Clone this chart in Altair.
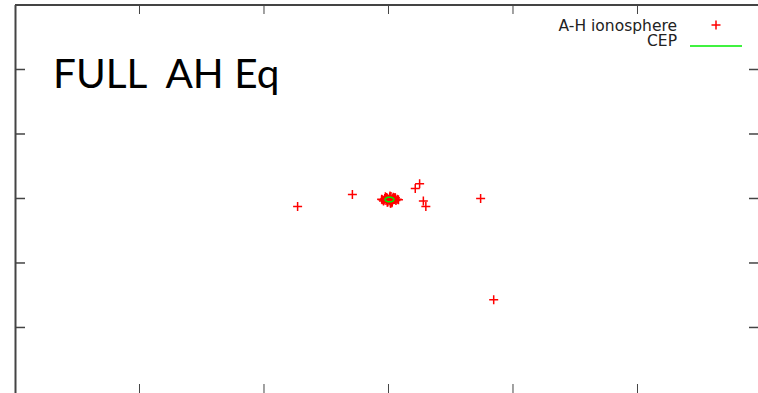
import altair as alt
import pandas as pd

# A-H ionosphere solutions (data units)
out_x = [-0.73, -0.29, 0.215, 0.25, 0.28, 0.30, 0.74, 0.845]
out_y = [-0.125, 0.06, 0.155, 0.23, -0.04, -0.125, 0.0, -1.57]
clu_x = [0.0, 0.01, -0.02, 0.03, -0.03, 0.02, -0.01, 0.04, -0.04, 0.05,
         -0.05, 0.06, 0.07, 0.015, -0.015, 0.025, -0.025, 0.035, 0.005, -0.005,
         0.045, -0.035, 0.055, 0.08, -0.055, 0.012, 0.028, -0.008, 0.018, 0.038]
clu_y = [-0.01, 0.02, -0.03, -0.05, 0.0, 0.03, -0.06, -0.02, -0.04, 0.01,
         -0.02, -0.03, -0.01, -0.07, 0.015, -0.045, 0.025, 0.0, -0.035, -0.055,
         -0.015, -0.025, 0.01, -0.02, -0.01, 0.04, -0.065, 0.005, -0.075, 0.02]

# CEP circle
cep_cx = 0.008
cep_cy = -0.016
cep_r = 0.036

x_ticks = [-2, -1, 0, 1, 2]
y_ticks = [-2, -1, 0, 1, 2]

W, H = 743, 388
X_DOM = [-3.0, 2.968]
Y_DOM = [-3.016, 3.0]
FRAME = "#444444"

pts = pd.DataFrame({"x": out_x + clu_x, "y": out_y + clu_y})
xs = alt.Scale(domain=X_DOM, nice=False, zero=False)
ys = alt.Scale(domain=Y_DOM, nice=False, zero=False)

plus = "M-1,0L1,0M0,-1L0,1"

points = alt.Chart(pts).mark_point(
    shape=plus, size=81, color="red", filled=False, strokeWidth=1.5, opacity=1
).encode(
    x=alt.X("x:Q", scale=xs, axis=None),
    y=alt.Y("y:Q", scale=ys, axis=None),
)

cep = alt.Chart(alt.sequence(0, 361, 10, as_="deg")).transform_calculate(
    cx=f"{cep_cx} + {cep_r} * cos(datum.deg * PI / 180)",
    cy=f"{cep_cy} + {cep_r} * sin(datum.deg * PI / 180)",
).mark_line(color="#00ee00", strokeWidth=1.5).encode(
    x=alt.X("cx:Q", scale=xs, axis=None),
    y=alt.Y("cy:Q", scale=ys, axis=None),
    order="deg:Q",
)

xt = pd.DataFrame({"t": x_ticks})
yt = pd.DataFrame({"t": y_ticks})
TL = 9
top_ticks = alt.Chart(xt).mark_rule(color=FRAME, strokeWidth=1).encode(
    x=alt.X("t:Q", scale=xs, axis=None), y=alt.value(0), y2=alt.value(TL))
bot_ticks = alt.Chart(xt).mark_rule(color=FRAME, strokeWidth=1).encode(
    x=alt.X("t:Q", scale=xs, axis=None), y=alt.value(H - TL), y2=alt.value(H))
left_ticks = alt.Chart(yt).mark_rule(color=FRAME, strokeWidth=1.5).encode(
    y=alt.Y("t:Q", scale=ys, axis=None), x=alt.value(0), x2=alt.value(TL + 1))
right_ticks = alt.Chart(yt).mark_rule(color=FRAME, strokeWidth=1.5).encode(
    y=alt.Y("t:Q", scale=ys, axis=None), x=alt.value(W - TL), x2=alt.value(W))

left_border = alt.Chart(pd.DataFrame({"a": [0]})).mark_rule(color=FRAME, strokeWidth=2).encode(
    x=alt.value(0.5), y=alt.value(0), y2=alt.value(H))
top_border = alt.Chart(pd.DataFrame({"a": [0]})).mark_rule(color=FRAME, strokeWidth=2).encode(
    x=alt.value(0), x2=alt.value(W), y=alt.value(0))

one = pd.DataFrame({"a": [0]})
title = alt.Chart(one).mark_text(
    text="FULL\u00a0\u00a0AH Eq", font="Lato", fontSize=40.5, align="left",
    baseline="alphabetic", color="black"
).encode(x=alt.value(38), y=alt.value(83))

leg1 = alt.Chart(one).mark_text(
    text="A-H ionosphere", font="DejaVu Sans", fontSize=15.5, align="right",
    baseline="alphabetic", color="#222222"
).encode(x=alt.value(662), y=alt.value(26))
leg2 = alt.Chart(one).mark_text(
    text="CEP", font="DejaVu Sans", fontSize=15.5, align="right",
    baseline="alphabetic", color="#222222"
).encode(x=alt.value(662), y=alt.value(41))
leg_plus = alt.Chart(one).mark_point(
    shape=plus, size=81, color="red", filled=False, strokeWidth=1.5, opacity=1
).encode(x=alt.value(701), y=alt.value(20))
leg_line = alt.Chart(one).mark_rule(color="#00ee00", strokeWidth=1.5).encode(
    x=alt.value(675), x2=alt.value(727), y=alt.value(41))

chart = alt.layer(
    left_border, top_border, top_ticks, bot_ticks, left_ticks, right_ticks,
    points, cep, title, leg1, leg2, leg_plus, leg_line
).properties(
    width=W, height=H,
    autosize=alt.AutoSizeParams(type="none"),
    padding={"left": 15, "top": 5, "right": 0, "bottom": 0},
).configure_view(stroke=None).configure(background="white")

chart.save("out.html", embed_options={"renderer": "svg", "actions": False})
